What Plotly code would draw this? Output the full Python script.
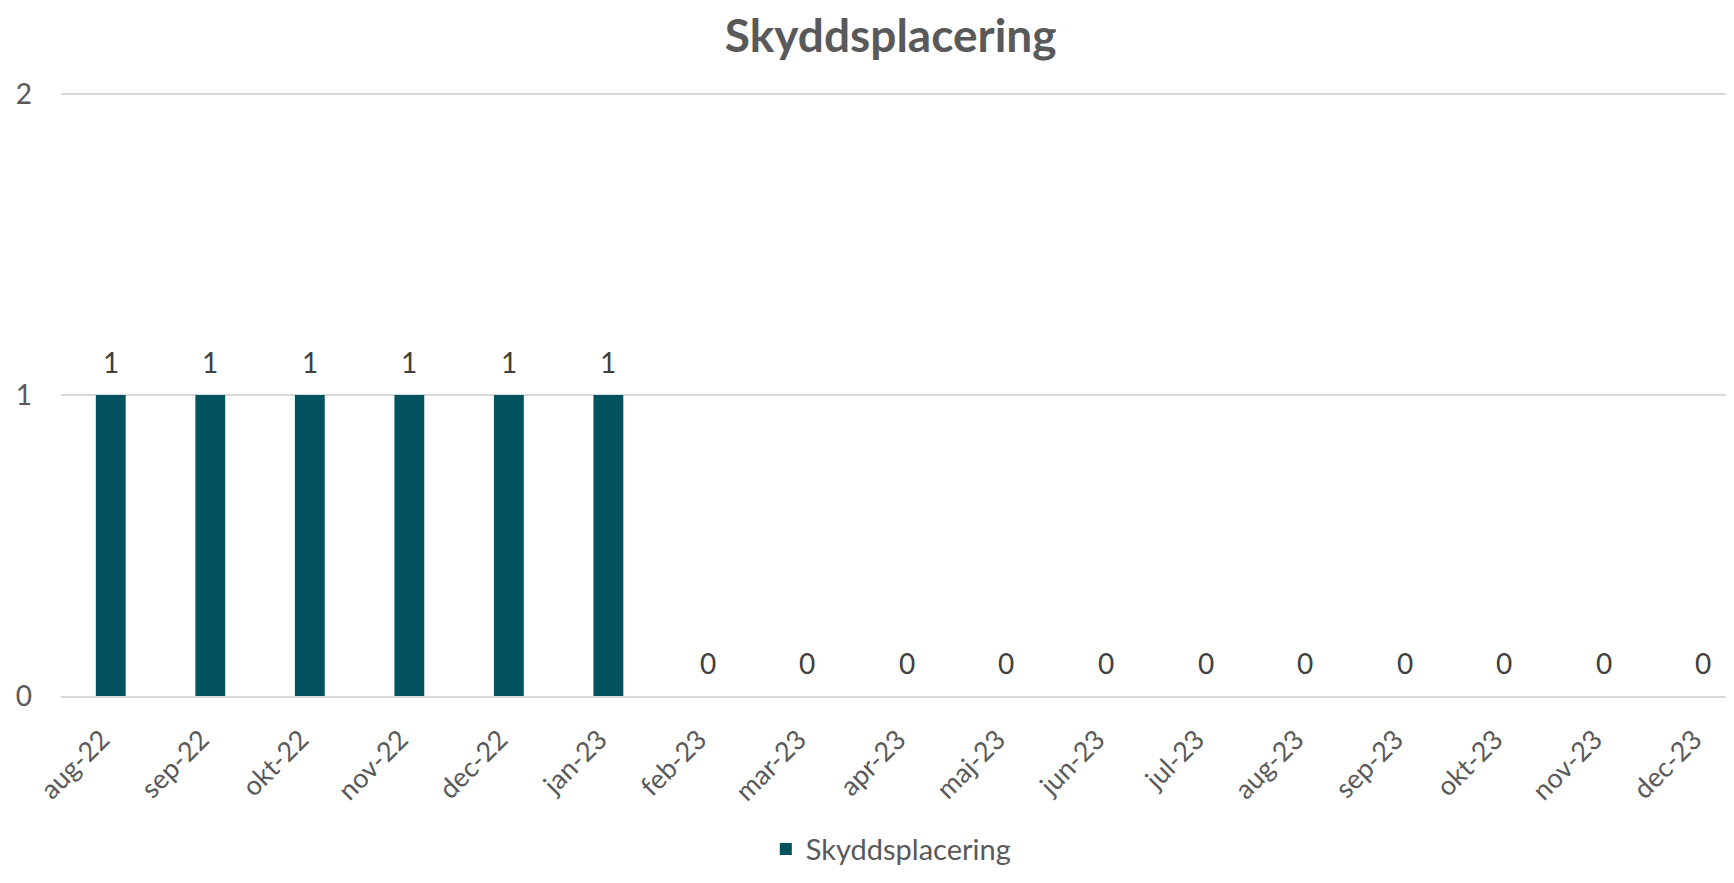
import plotly.graph_objects as go

months = ['aug-22', 'sep-22', 'okt-22', 'nov-22', 'dec-22', 'jan-23', 'feb-23',
          'mar-23', 'apr-23', 'maj-23', 'jun-23', 'jul-23', 'aug-23', 'sep-23',
          'okt-23', 'nov-23', 'dec-23']
values = [1, 1, 1, 1, 1, 1, 0, 0, 0, 0, 0, 0, 0, 0, 0, 0, 0]
y_ticks = [0, 1, 2]

colors = {
    'bar': '#03525f',
    'text': '#595959',
    'grid': '#d9d9d9',
}
font = 'Lato, Carlito, Calibri, sans-serif'

fig = go.Figure()
fig.add_trace(go.Bar(x=months, y=values, name='Skyddsplacering',
                     marker_color=colors['bar'], marker_line_width=0))

# data labels above each bar
for m, v in zip(months, values):
    fig.add_annotation(x=m, y=v, text=str(v), showarrow=False,
                       yanchor='middle', yshift=33,
                       font=dict(size=28, color='#404040', family=font))

# page has an 8px body margin, so the figure is sized to fit inside it
fig.update_layout(
    width=1726, height=867,
    plot_bgcolor='white', paper_bgcolor='white',
    font=dict(family=font, color=colors['text'], size=26),
    margin=dict(l=53, r=0, t=85, b=156),
    bargap=0.7,
    title=dict(text='<b>Skyddsplacering</b>', x=0.5114, xref='container',
               xanchor='center', y=1 - 28 / 867, yref='container',
               yanchor='middle', font=dict(size=46, color=colors['text'])),
    showlegend=True,
    legend=dict(orientation='h', x=0.496, xanchor='center', y=-0.254,
                yanchor='middle', font=dict(size=29, color=colors['text']),
                itemwidth=30),
)
fig.update_xaxes(range=[-0.5, 16.31], tickangle=-45, showgrid=False,
                 showline=True, linecolor=colors['grid'], linewidth=2,
                 ticks='', ticklabelstandoff=15, ticklabelshift=-9,
                 automargin=False,
                 tickfont=dict(size=27, color=colors['text']))
fig.update_yaxes(range=[0, 2.004], tickvals=y_ticks, showgrid=True,
                 gridcolor=colors['grid'], gridwidth=2, zeroline=False,
                 showline=False, ticks='', ticklabelstandoff=28,
                 automargin=False,
                 tickfont=dict(size=28, color=colors['text']))

fig.write_html("out.html")
